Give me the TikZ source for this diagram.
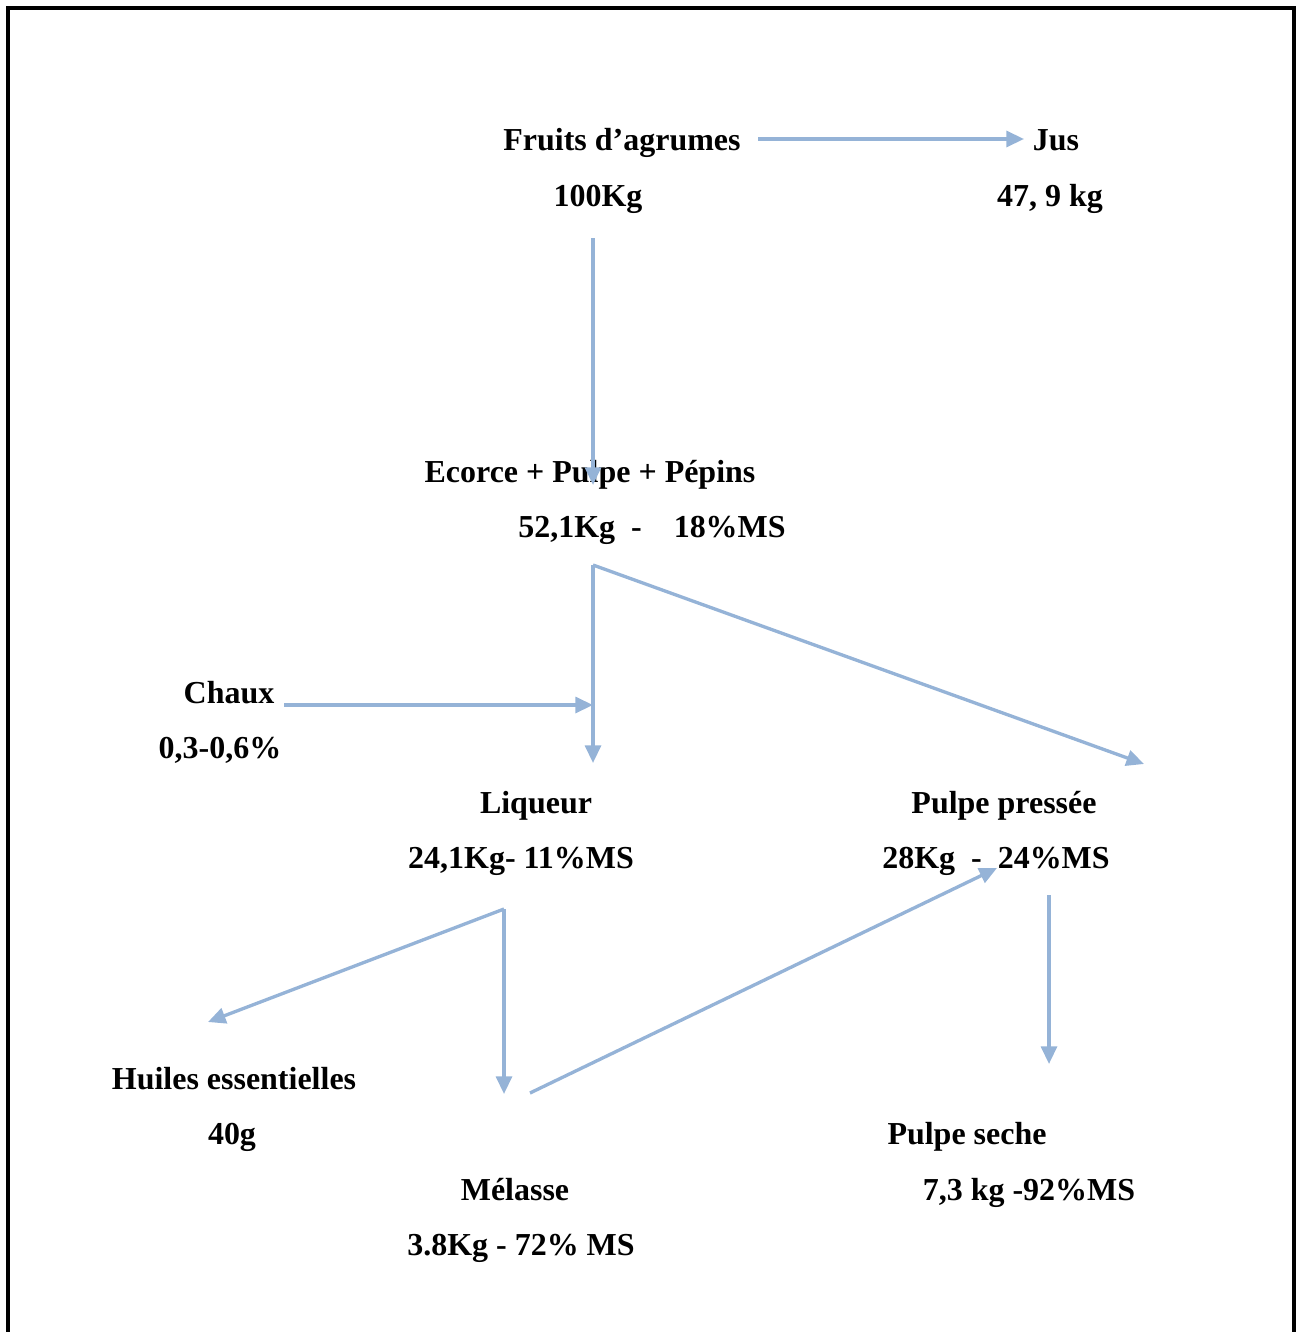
\documentclass[tikz,border=0pt]{standalone}
\usepackage{fontspec}
\setmainfont{Liberation Serif}
\usetikzlibrary{arrows.meta}
\definecolor{flowblue}{RGB}{149,179,215}

\begin{document}
\begin{tikzpicture}
	[x = 0.02cm, y = -0.02cm,
	flow/.style={-{Triangle[length=10pt, width=9pt]}, flowblue, line width=1.9pt},
	txt/.style={anchor=base, inner sep=0pt, font=\fontsize{18.2}{22}\selectfont\bfseries}]
	
	\useasboundingbox (0, 0) rectangle (1301, 1332);
	
	% Draw frame
	\draw[line width=4pt*0.569] (8, 1340) -- (8, 8) -- (1294, 8) -- (1294, 1340);
	
	% Draw products
	\node[txt] (fruits) at (622, 150) {Fruits d’agrumes};
	\node[txt] (fruitsQ) at (598, 206) {100Kg};
	\node[txt] (jus) at (1056, 150) {Jus};
	\node[txt] (jusQ) at (1050, 206) {47, 9 kg};
	\node[txt] (ecorce) at (590, 482) {Ecorce + Pulpe + Pépins};
	\node[txt] (ecorceQ) at (652, 537) {52,1Kg~~-~~~~18\%MS};
	\node[txt] (chaux) at (229, 703) {Chaux};
	\node[txt] (chauxQ) at (220, 758) {0,3-0,6\%};
	\node[txt] (liqueur) at (536, 813) {Liqueur};
	\node[txt] (liqueurQ) at (521, 868) {24,1Kg- 11\%MS};
	\node[txt] (pressee) at (1004, 813) {Pulpe pressée};
	\node[txt] (presseeQ) at (996, 868) {28Kg~~-~~24\%MS};
	\node[txt] (huiles) at (234, 1089) {Huiles essentielles};
	\node[txt] (huilesQ) at (232, 1144) {40g};
	\node[txt] (seche) at (967, 1144) {Pulpe seche};
	\node[txt] (secheQ) at (1029, 1200) {7,3 kg -92\%MS};
	\node[txt] (melasse) at (515, 1200) {Mélasse};
	\node[txt] (melasseQ) at (521, 1255) {3.8Kg - 72\% MS};
	
	% Arrow ends
	\coordinate (F1) at (758, 139);
	\coordinate (J1) at (1024, 139);
	\coordinate (F2) at (593, 238);
	\coordinate (E1) at (593, 485);
	\coordinate (E2) at (593, 565);
	\coordinate (L1) at (593, 763);
	\coordinate (P1) at (1144, 764);
	\coordinate (C1) at (284, 705);
	\coordinate (C2) at (593, 705);
	\coordinate (L2) at (504, 909);
	\coordinate (H1) at (208, 1022);
	\coordinate (M1) at (504, 1094);
	\coordinate (M2) at (530, 1093);
	\coordinate (P2) at (997, 868);
	\coordinate (P3) at (1049, 895);
	\coordinate (S1) at (1049, 1064);
	
	% Draw flows
	\draw[flow] (F1) -- (J1);
	\draw[flow] (F2) -- (E1);
	\draw[flow] (E2) -- (L1);
	\draw[flow] (E2) -- (P1);
	\draw[flow] (C1) -- (C2);
	\draw[flow] (L2) -- (H1);
	\draw[flow] (L2) -- (M1);
	\draw[flow] (M2) -- (P2);
	\draw[flow] (P3) -- (S1);
	
\end{tikzpicture}
\end{document}
